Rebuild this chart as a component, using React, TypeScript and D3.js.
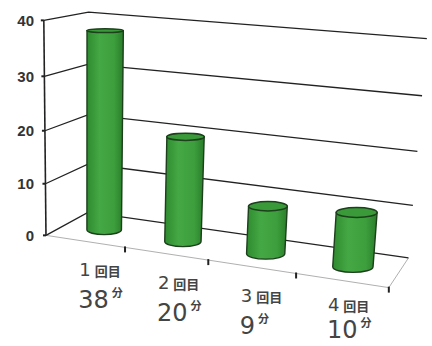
import React from "react";
import * as d3 from "d3";

// ---- data ----
const categories = ["1", "2", "3", "4"];
const values = [38, 20, 9, 10];
const categorySuffix = "回目";
const valueSuffix = "分";
const yTicks = [0, 10, 20, 30, 40];

const W = 432;
const H = 346;

// Calibration of the perspective frame:
// world (x: band units 0..4, y: scaled value 0..4, z: depth 0 front..1 back) -> screen px
const frameAnchors: number[][] = [
  [0, 0, 0, 47, 236],
  [0, 2, 0, 45, 131],
  [0, 4, 0, 43, 21],
  [1, 0, 0, 124, 247],
  [2, 0, 0, 208, 260],
  [3, 0, 0, 296, 273],
  [4, 0, 0, 390, 287],
  [0, 0, 1, 88, 212],
  [0, 2, 1, 88, 115],
  [0, 4, 1, 90, 11],
  [4, 0, 1, 408, 258],
  [4, 1, 1, 413, 205],
  [4, 2, 1, 418, 153],
  [4, 3, 1, 422, 96],
  [4, 4, 1, 426, 38],
];

function fitProjection(pts: number[][]) {
  const n = 11;
  const M = Array.from({ length: n }, () => new Array(n).fill(0));
  const r = new Array(n).fill(0);
  const addRow = (a: number[], b: number) => {
    for (let i = 0; i < n; i++) {
      for (let j = 0; j < n; j++) M[i][j] += a[i] * a[j];
      r[i] += a[i] * b;
    }
  };
  for (const [X, Y, Z, u, v] of pts) {
    addRow([X, Y, Z, 1, 0, 0, 0, 0, -u * X, -u * Y, -u * Z], u);
    addRow([0, 0, 0, 0, X, Y, Z, 1, -v * X, -v * Y, -v * Z], v);
  }
  for (let c = 0; c < n; c++) {
    let piv = c;
    for (let k = c + 1; k < n; k++) if (Math.abs(M[k][c]) > Math.abs(M[piv][c])) piv = k;
    [M[c], M[piv]] = [M[piv], M[c]];
    [r[c], r[piv]] = [r[piv], r[c]];
    for (let k = c + 1; k < n; k++) {
      const f = M[k][c] / M[c][c];
      for (let j = c; j < n; j++) M[k][j] -= f * M[c][j];
      r[k] -= f * r[c];
    }
  }
  const p = new Array(n).fill(0);
  for (let c = n - 1; c >= 0; c--) {
    let s = r[c];
    for (let j = c + 1; j < n; j++) s -= M[c][j] * p[j];
    p[c] = s / M[c][c];
  }
  return (X: number, Y: number, Z: number): [number, number] => {
    const w = p[8] * X + p[9] * Y + p[10] * Z + 1;
    return [
      (p[0] * X + p[1] * Y + p[2] * Z + p[3]) / w,
      (p[4] * X + p[5] * Y + p[6] * Z + p[7]) / w,
    ];
  };
}

const proj = fitProjection(frameAnchors);

const xBand = d3.scaleBand<string>().domain(categories).range([0, 4]).paddingInner(0).paddingOuter(0);
const yVal = d3.scaleLinear().domain([0, 40]).range([0, 4]);

const Z_CENTER = 0.46;
const R_X = 0.225;
const R_Z = 0.2;

const line = d3.line<[number, number]>();

export default function App() {
  const x0 = 0;
  const x1 = 4;
  const yMaxW = yVal(40);

  const grid = yTicks.map((t) => {
    const yw = yVal(t);
    return line([proj(x0, yw, 0), proj(x0, yw, 1), proj(x1, yw, 1)]) as string;
  });

  const cyl = categories.map((c, i) => {
    const cx = (xBand(c) as number) + xBand.bandwidth() / 2;
    const top = yVal(values[i]);
    const b = proj(cx, 0, Z_CENTER);
    const t = proj(cx, top, Z_CENTER);
    const rxB = (proj(cx + R_X, 0, Z_CENTER)[0] - proj(cx - R_X, 0, Z_CENTER)[0]) / 2;
    const rxT = (proj(cx + R_X, top, Z_CENTER)[0] - proj(cx - R_X, top, Z_CENTER)[0]) / 2;
    const ryB = Math.abs(proj(cx, 0, Z_CENTER - R_Z)[1] - proj(cx, 0, Z_CENTER + R_Z)[1]) / 2;
    const ryT = Math.abs(proj(cx, top, Z_CENTER - R_Z)[1] - proj(cx, top, Z_CENTER + R_Z)[1]) / 2;
    const body =
      `M${t[0] - rxT},${t[1]} L${b[0] - rxB},${b[1]} ` +
      `A${rxB},${ryB} 0 0 0 ${b[0] + rxB},${b[1]} ` +
      `L${t[0] + rxT},${t[1]} Z`;
    return { c, i, b, t, rxT, ryT, rxB, body };
  });

  return (
    <svg
      width={W}
      height={H}
      viewBox={`0 0 ${W} ${H}`}
      style={{ position: "absolute", left: 0, top: 0, background: "#fff" }}
    >
      <defs>
        <linearGradient id="cylGrad" x1="0" x2="1" y1="0" y2="0">
          <stop offset="0%" stopColor="#2f8a2f" />
          <stop offset="35%" stopColor="#44a844" />
          <stop offset="75%" stopColor="#3c9e3c" />
          <stop offset="100%" stopColor="#2a7d2a" />
        </linearGradient>
      </defs>

      {/* floor front and right edges */}
      <path
        d={line([proj(x0, 0, 0), proj(x1, 0, 0), proj(x1, 0, 1)]) as string}
        fill="none"
        stroke="#b0b0b0"
        strokeWidth={1}
      />
      {/* category ticks on floor front edge */}
      {d3.range(1, 5).map((k) => {
        const p = proj(k, 0, 0);
        return (
          <line key={k} x1={p[0]} y1={p[1] - 1} x2={p[0]} y2={p[1] + 5} stroke="#222" strokeWidth={2} />
        );
      })}

      {/* gridlines (side + back wall) */}
      {grid.map((d, k) => (
        <path key={k} d={d} fill="none" stroke="#222" strokeWidth={1.3} />
      ))}
      {/* front vertical axis */}
      <path d={line([proj(x0, 0, 0), proj(x0, yMaxW, 0)]) as string} stroke="#222" strokeWidth={1.6} fill="none" />
      {yTicks.map((t) => {
        const p = proj(x0, yVal(t), 0);
        return (
          <g key={t}>
            <line x1={p[0] - 3} y1={p[1]} x2={p[0]} y2={p[1]} stroke="#222" strokeWidth={2} />
            <text
              x={34}
              y={p[1]}
              textAnchor="end"
              dominantBaseline="central"
              fontFamily="Liberation Sans, Arial, sans-serif"
              fontWeight="bold"
              fontSize={15}
              fill="#333"
            >
              {t}
            </text>
          </g>
        );
      })}

      {/* cylinders */}
      {cyl.map((d) => (
        <g key={d.c}>
          <path d={d.body} fill="url(#cylGrad)" stroke="#1c3f1c" strokeWidth={1.4} />
          <ellipse cx={d.t[0]} cy={d.t[1]} rx={d.rxT} ry={d.ryT} fill="#3a9a3a" stroke="#1c3f1c" strokeWidth={1.5} />
        </g>
      ))}

      {/* labels */}
      {cyl.map((d) => {
        const f = proj(xBand(d.c)! + 0.5, 0, 0);
        const lx = d.b[0] - 25;
        const valY = Math.min(f[1] + 67, H - 8);
        const catY = Math.min(f[1] + 35, valY - 27);
        return (
          <g key={"l" + d.c} fill="#444" fontFamily="DejaVu Sans, sans-serif">
            <text x={lx} y={catY}>
              <tspan fontSize={18}>{d.c}</tspan>
              <tspan fontSize={13} dx={4} fontFamily="Noto Sans CJK JP" fontWeight="bold">
                {categorySuffix}
              </tspan>
            </text>
            <text x={lx - 1} y={valY}>
              <tspan fontSize={24}>{values[d.i]}</tspan>
              <tspan fontSize={11} dx={3} dy={-11} fontFamily="Noto Sans CJK JP" fontWeight="bold">
                {valueSuffix}
              </tspan>
            </text>
          </g>
        );
      })}
    </svg>
  );
}
